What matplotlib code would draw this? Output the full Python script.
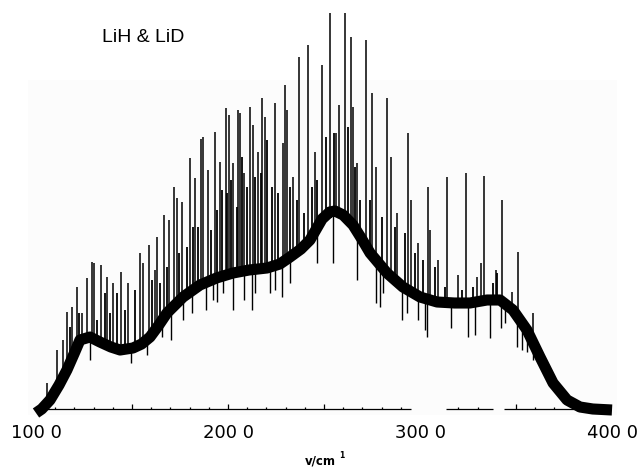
import numpy as np
import matplotlib
matplotlib.use("Agg")
import matplotlib.pyplot as plt
from matplotlib.patches import Rectangle

# ---- data (wavenumber in cm-1, intensity in arbitrary units) ----
baseline_wn = [1000, 1030, 1073, 1120, 1161, 1200, 1229, 1281, 1333, 1390, 1438, 1505, 1550,
               1594, 1640, 1682, 1766, 1854, 1940, 2026, 2110, 2203, 2270, 2323, 2380, 2427,
               2490, 2530, 2557, 2600, 2651, 2700, 2740, 2828, 2911, 3000, 3089, 3180, 3260,
               3349, 3417, 3484, 3557, 3625, 3693, 3766, 3833, 3900, 4000]
baseline_h = [2, 6, 15, 30, 45, 62, 75, 78, 73, 68, 65, 67, 71,
              78, 90, 102, 118, 130, 137, 142, 145, 147, 151, 158, 166, 175,
              196, 203, 204, 200, 190, 175, 162, 142, 128, 118, 113, 112, 112,
              115, 115, 105, 85, 58, 32, 15, 8, 6, 5]

# tall (main) spikes
peak_up_wn = [1057, 1109, 1141, 1161, 1187, 1214, 1240, 1266, 1292, 1302, 1339, 1370, 1401,
              1443, 1479, 1540, 1557, 1589, 1620, 1630, 1667, 1693, 1719, 1734, 1760, 1802,
              1828, 1859, 1870, 1896, 1932, 1958, 1990, 2005, 2026, 2052, 2063, 2083, 2115,
              2130, 2156, 2177, 2193, 2245, 2286, 2297, 2307, 2339, 2370, 2417, 2453, 2490,
              2531, 2563, 2578, 2609, 2641, 2651, 2672, 2719, 2750, 2771, 2828, 2849, 2880,
              2937, 2953, 2990, 3042, 3052, 3094, 3141, 3198, 3240, 3297, 3318, 3333, 3396,
              3427, 3479, 3510, 3589]
peak_up_h = [32, 65, 75, 103, 108, 128, 102, 137, 153, 152, 150, 138, 132,
             143, 132, 162, 152, 170, 145, 178, 200, 195, 228, 217, 213, 257,
             237, 276, 278, 245, 283, 253, 307, 300, 252, 305, 302, 242, 308,
             290, 263, 317, 298, 312, 272, 330, 305, 238, 358, 370, 263, 350,
             402, 282, 310, 402, 378, 308, 252, 375, 322, 248, 317, 258, 202,
             282, 215, 172, 228, 185, 155, 238, 140, 242, 138, 152, 239, 145,
             215, 123, 163, 102]

# shorter spikes between the main ones
minor_up_wn = [1177, 1224, 1318, 1359, 1385, 1422, 1464, 1516, 1604, 1646, 1682, 1745,
               1786, 1818, 1844, 1911, 1943, 1969, 1995, 2016, 2047, 2073, 2099, 2141,
               2172, 2203, 2229, 2260, 2323, 2359, 2396, 2437, 2464, 2510, 2552, 2625,
               2661, 2687, 2740, 2802, 2870, 2922, 2974, 3016, 3078, 3130, 3219, 3276,
               3380, 3401, 3531, 3557]
minor_up_h = [88, 102, 95, 122, 102, 122, 105, 125, 135, 132, 148, 162,
              168, 188, 188, 185, 205, 225, 222, 235, 208, 258, 228, 238,
              242, 275, 228, 222, 228, 215, 202, 228, 235, 278, 282, 288,
              248, 215, 215, 198, 188, 182, 162, 155, 148, 128, 125, 128,
              132, 142, 92, 88]

peak_down_wn = [1281, 1495, 1578, 1656, 1703, 1766, 1812, 1885, 1922, 1943, 1974, 2026,
                2083, 2125, 2141, 2219, 2245, 2281, 2323, 2464, 2547, 2672, 2771, 2792,
                2807, 2906, 2932, 2990, 3026, 3036, 3161, 3250, 3286, 3365, 3422, 3443,
                3505, 3531, 3557, 3589]
peak_down_h = [55, 52, 60, 78, 75, 95, 102, 105, 115, 113, 122, 105,
               115, 105, 122, 122, 125, 118, 132, 152, 152, 135, 112, 108,
               122, 95, 102, 95, 85, 78, 87, 78, 80, 77, 87, 92,
               68, 65, 63, 55]

tick_values = [1000, 2000, 3000, 4000]
tick_labels = ["100 0", "200 0", "300 0", "400 0"]
axis_segments = [(1000, 2955), (3135, 3380), (3435, 3800)]

# ---- figure ----
fig = plt.figure(figsize=(6.41, 4.67), dpi=100)
ax = fig.add_axes([0, 0, 1, 1])
ax.set_xlim(812.5, 4151)
ax.set_ylim(-52, 415)
ax.axis("off")
ax.add_patch(Rectangle((28 / 641, 52 / 467), 589 / 641, 335 / 467,
                       transform=fig.transFigure, facecolor="#fcfcfc",
                       edgecolor="none", zorder=0))

# broken x-axis line with small ticks
for a, b in axis_segments:
    ax.plot([a, b], [6, 6], color="black", lw=0.9, solid_capstyle="butt", zorder=2)
    minor = [t for t in range(1100, 4000, 100) if a <= t <= b]
    lens = [5 if t % 500 == 0 else 2.5 for t in minor]
    ax.vlines(minor, 6, [6 + l for l in lens], color="black", lw=0.9, zorder=2)

base_up = np.interp(peak_up_wn, baseline_wn, baseline_h)
base_mn = np.interp(minor_up_wn, baseline_wn, baseline_h)
base_dn = np.interp(peak_down_wn, baseline_wn, baseline_h)
ax.vlines(peak_up_wn, base_up, peak_up_h, color="black", lw=1.1, zorder=3)
ax.vlines(minor_up_wn, base_mn, minor_up_h, color="black", lw=1.3, zorder=3)
ax.vlines(peak_down_wn, peak_down_h, base_dn, color="black", lw=1.0, zorder=3)
ax.plot(baseline_wn, baseline_h, color="black", lw=8, solid_capstyle="butt",
        solid_joinstyle="round", zorder=4)

for v, lab in zip(tick_values, tick_labels):
    ax.text(v, -18, lab, ha="center", va="center", fontsize=13,
            family="DejaVu Sans", color="black")

ax.text(2480, -46, "v/cm", ha="center", va="center", fontsize=8.5,
        fontweight="bold", family="DejaVu Sans")
ax.text(2590, -41, "1", ha="center", va="center", fontsize=5.5,
        fontweight="bold", family="DejaVu Sans")
ax.text(1560, 378, "LiH & LiD", ha="center", va="center", fontsize=14,
        family="Liberation Sans")

fig.savefig("out.png", dpi=100)
